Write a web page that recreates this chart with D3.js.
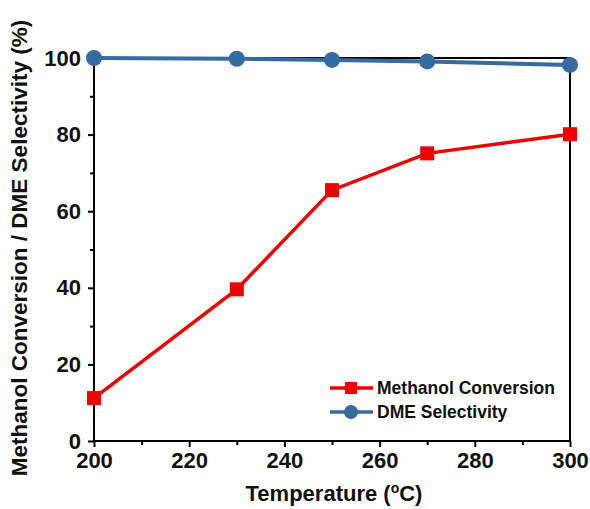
<!DOCTYPE html>
<html>
<head>
<meta charset="utf-8">
<script src="https://cdn.jsdelivr.net/npm/d3@7"></script>
<style>
  body { margin: 0; background: #fff; }
  svg text { font-family: "Liberation Sans", Arial, sans-serif; font-weight: bold; fill: #111; }
</style>
</head>
<body>
<svg id="chart" width="590" height="509"></svg>
<script>
var temps = [200, 230, 250, 270, 300];
var conversion = [11.2, 39.6, 65.5, 75.1, 80.1];
var selectivity = [100, 99.8, 99.5, 99.1, 98.2];
var xTicks = [200, 220, 240, 260, 280, 300];
var yTicks = [0, 20, 40, 60, 80, 100];

var svg = d3.select("#chart");
var pLeft = 94, pRight = 570, pTop = 58, pBottom = 441;

var x = d3.scaleLinear().domain([200, 300]).range([pLeft, pRight]);
var y = d3.scaleLinear().domain([0, 100]).range([pBottom, pTop]);

// frame
svg.append("rect")
  .attr("x", pLeft).attr("y", pTop)
  .attr("width", pRight - pLeft).attr("height", pBottom - pTop)
  .attr("fill", "none").attr("stroke", "#000").attr("stroke-width", 2);

// x axis
var xAxis = svg.append("g").attr("transform", "translate(0," + pBottom + ")")
  .call(d3.axisBottom(x).tickValues(xTicks).tickSize(6).tickPadding(5).tickFormat(d3.format("d")));
xAxis.select(".domain").remove();
xAxis.selectAll("line").attr("stroke-width", 2);
xAxis.selectAll("text").style("font-size", "22px").attr("fill", "#111");
svg.append("g").attr("transform", "translate(0," + pBottom + ")")
  .call(d3.axisBottom(x).tickValues(d3.range(210, 300, 20)).tickSize(4).tickFormat(""))
  .call(function(g) { g.select(".domain").remove(); g.selectAll("line").attr("stroke-width", 2); });

// y axis
var yAxis = svg.append("g").attr("transform", "translate(" + pLeft + ",0)")
  .call(d3.axisLeft(y).tickValues(yTicks).tickSize(6).tickPadding(7));
yAxis.select(".domain").remove();
yAxis.selectAll("line").attr("stroke-width", 2);
yAxis.selectAll("text").style("font-size", "22px").attr("fill", "#111");
svg.append("g").attr("transform", "translate(" + pLeft + ",0)")
  .call(d3.axisLeft(y).tickValues(d3.range(10, 100, 20)).tickSize(4).tickFormat(""))
  .call(function(g) { g.select(".domain").remove(); g.selectAll("line").attr("stroke-width", 2); });

// axis titles
var xt = svg.append("text").attr("x", 334).attr("y", 501)
  .attr("text-anchor", "middle").style("font-size", "22px");
xt.append("tspan").text("Temperature (");
xt.append("tspan").attr("dy", -8).style("font-size", "14px").text("o");
xt.append("tspan").attr("dy", 8).text("C)");

svg.append("text")
  .attr("transform", "translate(27,248) rotate(-90)")
  .attr("text-anchor", "middle").style("font-size", "22.5px")
  .text("Methanol Conversion / DME Selectivity (%)");

var red = "#f00000", blue = "#356ba0";
var line = d3.line().x(function(d, i) { return x(temps[i]); }).y(function(d) { return y(d); });

svg.append("path").datum(conversion).attr("d", line)
  .attr("fill", "none").attr("stroke", red).attr("stroke-width", 3.5);
svg.selectAll(".sq").data(conversion).enter().append("rect")
  .attr("x", function(d, i) { return x(temps[i]) - 7; })
  .attr("y", function(d) { return y(d) - 7; })
  .attr("width", 14).attr("height", 14).attr("fill", red);

svg.append("path").datum(selectivity).attr("d", line)
  .attr("fill", "none").attr("stroke", blue).attr("stroke-width", 4);
svg.selectAll(".ci").data(selectivity).enter().append("circle")
  .attr("cx", function(d, i) { return x(temps[i]); })
  .attr("cy", function(d) { return y(d); })
  .attr("r", 8).attr("fill", blue);

// legend
var legend = [
  { name: "Methanol Conversion", color: red, shape: "square" },
  { name: "DME Selectivity", color: blue, shape: "circle" }
];
legend.forEach(function(l, i) {
  var ly = 388 + i * 24;
  svg.append("line").attr("x1", 330).attr("x2", 373).attr("y1", ly).attr("y2", ly)
    .attr("stroke", l.color).attr("stroke-width", 3.5);
  if (l.shape === "square") {
    svg.append("rect").attr("x", 345).attr("y", ly - 6).attr("width", 12).attr("height", 12).attr("fill", l.color);
  } else {
    svg.append("circle").attr("cx", 351).attr("cy", ly).attr("r", 7).attr("fill", l.color);
  }
  svg.append("text").attr("x", 377).attr("y", ly + 6).style("font-size", "17.5px").text(l.name);
});
</script>
</body>
</html>
